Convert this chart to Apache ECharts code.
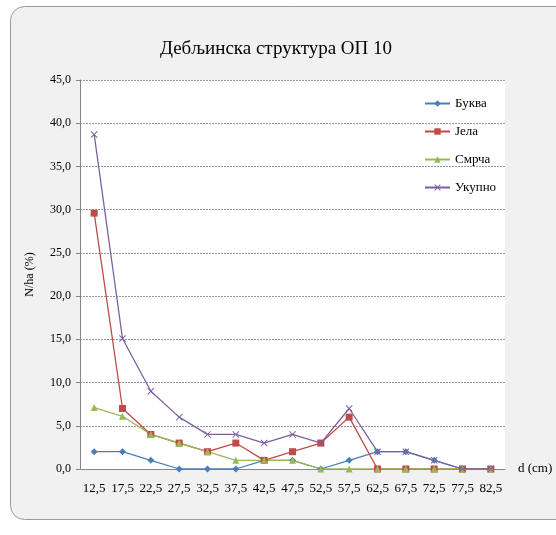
<!DOCTYPE html>
<html><head><meta charset="utf-8">
<script src="https://cdn.jsdelivr.net/npm/echarts@6/dist/echarts.min.js"></script>
<style>html,body{margin:0;padding:0;background:#fff}#c{width:556px;height:535px}</style>
</head><body><div id="c"></div>
<script>
var categories = ['12,5','17,5','22,5','27,5','32,5','37,5','42,5','47,5','52,5','57,5','62,5','67,5','72,5','77,5','82,5'];
var bukva  = [2,2,1,0,0,0,1,1,0,1,2,2,1,0,0];
var jela   = [29.6,7,4,3,2,3,1,2,3,6,0,0,0,0,0];
var smrca  = [7.1,6.1,4,3,2,1,1,1,0,0,0,0,0,0,0];
var ukupno = [38.7,15.1,9,6,4,4,3,4,3,7,2,2,1,0,0];
var seriesNames = ['Буква','Јела','Смрча','Укупно'];

var font = 'Liberation Serif';
var xSym = 'path://M0,1 L1,0 L5,4 L9,0 L10,1 L6,5 L10,9 L9,10 L5,6 L1,10 L0,9 L4,5Z';
function mk(name, data, color, symbol, size){
  return {name:name, type:'line', data:data, symbol:symbol, symbolSize:size,
    showAllSymbol:true, lineStyle:{color:color,width:1.3}, itemStyle:{color:color},
    emphasis:{disabled:true}, z:5};
}
var chart = echarts.init(document.getElementById('c'));
chart.setOption({
  animation:false,
  backgroundColor:'#fff',
  graphic:[
    {type:'rect', left:10, top:6, shape:{width:570, height:513, r:14}, style:{fill:'#f1f1f1', stroke:'#9a9a9a', lineWidth:1}, z:-10},
    {type:'rect', left:80, top:80, shape:{width:425, height:389}, style:{fill:'#fff'}, z:-9}
  ],
  title:{text:'Дебљинска структура ОП 10', left:271, top:35, textAlign:'center',
    textStyle:{fontFamily:font, fontSize:19, fontWeight:'normal', color:'#000'}},
  legend:{orient:'vertical', left:419, top:92, itemGap:15, itemWidth:25, itemHeight:8,
    data:seriesNames, textStyle:{fontFamily:font, fontSize:13, color:'#000'}},
  grid:{left:80, right:51, top:80, bottom:66},
  xAxis:{type:'category', data:categories, boundaryGap:true,
    name:'d (cm)', nameLocation:'end', nameGap:13,
    nameTextStyle:{fontFamily:font, fontSize:13, color:'#000', verticalAlign:'middle', padding:[4,0,0,0]},
    axisLine:{lineStyle:{color:'#868686'}},
    axisTick:{alignWithLabel:true, length:4, lineStyle:{color:'#868686'}},
    axisLabel:{fontFamily:font, fontSize:13, color:'#000', margin:13, interval:0}},
  yAxis:{type:'value', min:0, max:45, interval:5,
    name:'N/ha (%)', nameLocation:'middle', nameGap:44, nameRotate:90,
    nameTextStyle:{fontFamily:font, fontSize:12, color:'#000'},
    axisLine:{show:true, lineStyle:{color:'#868686'}},
    axisTick:{show:true, length:4, lineStyle:{color:'#868686'}},
    axisLabel:{fontFamily:font, fontSize:12, color:'#000', margin:9,
      formatter:function(v){return v.toFixed(1).replace('.',',');}},
    splitLine:{lineStyle:{color:'#999', type:[2,1], width:1}}},
  series:[
    mk(seriesNames[0], bukva, '#4a7ebb', 'diamond', 7),
    mk(seriesNames[1], jela, '#be4b48', 'rect', 7),
    mk(seriesNames[2], smrca, '#98b954', 'triangle', 7),
    mk(seriesNames[3], ukupno, '#7d60a0', xSym, 7)
  ]
});
</script></body></html>
